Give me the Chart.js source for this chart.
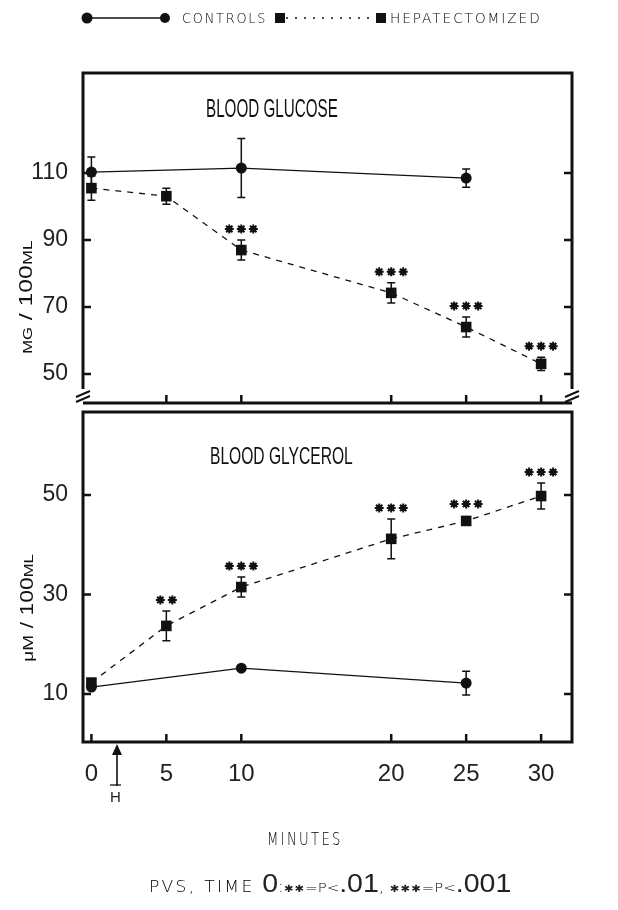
<!DOCTYPE html>
<html>
<head>
<meta charset="utf-8">
<script src="https://cdn.jsdelivr.net/npm/chart.js@4.4.0/dist/chart.umd.min.js"></script>
<style>
  html, body { margin: 0; padding: 0; background: #fff; }
  #page { position: relative; width: 618px; height: 910px; overflow: hidden; color: #111;
          font-family: 'Liberation Sans', sans-serif; }
  canvas { position: absolute; left: 0; top: 0; }
  svg { position: absolute; left: 0; top: 0; }
  .lbl { position: absolute; white-space: nowrap; line-height: 1; transform-origin: 0 0; }
  .rot { transform-origin: 50% 50%; }
  .thin { font-family: 'DejaVu Sans', sans-serif; font-weight: 200; color: #000; }
  .st { font-family: 'DejaVu Sans', sans-serif; font-size: 10px; letter-spacing: 1px; }
</style>
</head>
<body>
<div id="page">
  <canvas id="glucoseChart" width="618" height="910"></canvas>
  <canvas id="glycerolChart" width="618" height="910"></canvas>

  <svg width="618" height="910">
    <!-- legend symbols -->
    <line x1="87" y1="18" x2="165" y2="18" stroke="#111" stroke-width="1.5"/>
    <circle cx="87" cy="18" r="5.5" fill="#111"/>
    <circle cx="165" cy="18" r="5" fill="#111"/>
    <line x1="286" y1="18" x2="376" y2="18" stroke="#111" stroke-width="1.5" stroke-dasharray="2 7"/>
    <rect x="275" y="13" width="10" height="10" fill="#111"/>
    <rect x="376" y="13" width="10" height="10" fill="#111"/>
    <!-- hepatectomy arrow -->
    <line x1="117" y1="752" x2="117" y2="786" stroke="#111" stroke-width="1.6"/>
    <polygon points="117,744 112,755 122,755" fill="#111"/>
    <line x1="110" y1="785" x2="121" y2="785" stroke="#111" stroke-width="1.3"/>
    <text x="115.5" y="802" font-family="Liberation Sans, sans-serif" font-size="15" text-anchor="middle" fill="#222">H</text>
  </svg>

  <div class="lbl thin fit" data-w="85" style="left:182px; top:11px; font-size:14px; letter-spacing:2px;">CONTROLS</div>
  <div class="lbl thin fit" data-w="152" style="left:390px; top:11px; font-size:14px; letter-spacing:2px;">HEPATECTOMIZED</div>

  <div class="lbl fit" data-w="132" style="left:206px; top:96px; font-size:25px;">BLOOD GLUCOSE</div>
  <div class="lbl fit" data-w="143" style="left:210px; top:444px; font-size:24px;">BLOOD GLYCEROL</div>

  <div class="lbl rot fit" data-w="113" data-rot="1" style="left:26px; top:297px; font-size:18px;"><span style="font-size:12px">MG</span> / 100<span style="font-size:13px">ML</span></div>
  <div class="lbl rot fit" data-w="107" data-rot="1" style="left:27px; top:608px; font-size:18px;"><span style="font-size:15px">μM</span> / 100<span style="font-size:13px">ML</span></div>

  <div class="lbl thin fit" data-w="76" style="left:267px; top:831px; font-size:17px; letter-spacing:3px;">MINUTES</div>

  <div class="lbl fit" data-w="362" style="left:149px; top:871px; font-size:25px; color:#222;"><span class="thin" style="font-size:15px; letter-spacing:2px;">PVS, TIME </span>0<span class="thin" style="font-size:15px">:</span><span class="st">✱✱</span><span class="thin" style="font-size:13px">=P&lt;</span>.01<span class="thin" style="font-size:15px">, </span><span class="st">✱✱✱</span><span class="thin" style="font-size:13px">=P&lt;</span>.001</div>
</div>

<script>
// Data
const minuteTicks = [0, 5, 10, 20, 25, 30];
const hepMinutes = [0, 5, 10, 20, 25, 30];
const controlMinutes = [0, 10, 25];

const glucoseTicks = [50, 70, 90, 110];
const glucoseControls = [110.3, 111.5, 108.5];
const glucoseControlsSem = [4.5, 8.8, 2.7];
const glucoseHep = [105.5, 103.1, 87.0, 74.2, 64.0, 53.0];
const glucoseHepSem = [3.6, 2.4, 3.0, 3.0, 3.0, 2.0];
const glucoseStars = ['', '', '***', '***', '***', '***'];

const glycerolTicks = [10, 30, 50];
const glycerolControls = [11.4, 15.2, 12.2];
const glycerolControlsSem = [0, 0, 2.4];
const glycerolHep = [12.3, 23.7, 31.5, 41.2, 44.8, 49.8];
const glycerolHepSem = [0, 3.0, 2.0, 4.0, 0, 2.6];
const glycerolStars = ['', '**', '***', '***', '***', '***'];

const tickFamily = "'Liberation Sans', sans-serif";
const ink = '#111';

// Fit text widths to the reference
document.querySelectorAll('.fit').forEach(el => {
    const s = el.dataset.w / el.offsetWidth;
    el.style.transform = (el.dataset.rot ? 'translate(-50%,-50%) rotate(-90deg) ' : '') + 'scaleX(' + s + ')';
});

function toPoints(xs, ys) {
    return xs.map((x, i) => ({ x: x, y: ys[i] }));
}

// Box around each panel, with inward ticks
function makeFramePlugin(withBreak) {
    return {
        id: 'frame',
        afterDraw(chart) {
            const { ctx, chartArea: a, scales } = chart;
            ctx.save();
            ctx.strokeStyle = ink;
            ctx.lineWidth = 3;
            ctx.beginPath();
            if (withBreak) {
                const stop = a.bottom - 14;
                ctx.moveTo(a.left, stop);
                ctx.lineTo(a.left, a.top);
                ctx.lineTo(a.right, a.top);
                ctx.lineTo(a.right, stop);
                ctx.moveTo(a.left, a.bottom);
                ctx.lineTo(a.right, a.bottom);
                ctx.stroke();
                ctx.lineWidth = 2;
                ctx.beginPath();
                [a.left, a.right].forEach(x => {
                    [-9, -4].forEach(dy => {
                        ctx.moveTo(x - 7, a.bottom + dy + 3);
                        ctx.lineTo(x + 7, a.bottom + dy - 3);
                    });
                });
            } else {
                ctx.rect(a.left, a.top, a.right - a.left, a.bottom - a.top);
            }
            ctx.stroke();

            ctx.lineWidth = 2.5;
            ctx.beginPath();
            scales.y.ticks.forEach(t => {
                const y = scales.y.getPixelForValue(t.value);
                ctx.moveTo(a.left, y);
                ctx.lineTo(a.left + 8, y);
                ctx.moveTo(a.right, y);
                ctx.lineTo(a.right - 8, y);
            });
            scales.x.ticks.forEach(t => {
                if (withBreak && t.value === 0) return;
                const x = scales.x.getPixelForValue(t.value);
                ctx.moveTo(x, a.bottom);
                ctx.lineTo(x, a.bottom - 8);
            });
            ctx.stroke();
            ctx.restore();
        }
    };
}

// Error bars (SEM) and significance stars
const errorBarPlugin = {
    id: 'errorBars',
    afterDatasetsDraw(chart) {
        const { ctx } = chart;
        const yScale = chart.scales.y;
        ctx.save();
        ctx.strokeStyle = ink;
        ctx.fillStyle = ink;
        chart.data.datasets.forEach((ds, i) => {
            const meta = chart.getDatasetMeta(i);
            meta.data.forEach((pt, j) => {
                const v = ds.data[j].y;
                const sem = ds.sem[j];
                if (sem) {
                    const top = yScale.getPixelForValue(v + sem);
                    const bot = yScale.getPixelForValue(v - sem);
                    ctx.lineWidth = 1.5;
                    ctx.beginPath();
                    ctx.moveTo(pt.x, top);
                    ctx.lineTo(pt.x, bot);
                    ctx.moveTo(pt.x - 4, top);
                    ctx.lineTo(pt.x + 4, top);
                    ctx.moveTo(pt.x - 4, bot);
                    ctx.lineTo(pt.x + 4, bot);
                    ctx.stroke();
                }
                const stars = ds.stars ? ds.stars[j] : '';
                if (stars) {
                    const top = Math.min(yScale.getPixelForValue(v + sem), pt.y - 6) - 11;
                    const n = stars.length;
                    for (let k = 0; k < n; k++) {
                        const cx = pt.x + (k - (n - 1) / 2) * 12;
                        ctx.lineWidth = 2;
                        ctx.beginPath();
                        for (let s = 0; s < 4; s++) {
                            const ang = s * Math.PI / 4;
                            ctx.moveTo(cx + 4.5 * Math.cos(ang), top + 4.5 * Math.sin(ang));
                            ctx.lineTo(cx - 4.5 * Math.cos(ang), top - 4.5 * Math.sin(ang));
                        }
                        ctx.stroke();
                        ctx.beginPath();
                        ctx.arc(cx, top, 3, 0, Math.PI * 2);
                        ctx.fill();
                    }
                }
            });
        });
        ctx.restore();
    }
};

function makeChart(id, cfg) {
    const ctx = document.getElementById(id).getContext('2d');
    return new Chart(ctx, {
        type: 'line',
        data: {
            datasets: [
                {
                    label: 'CONTROLS',
                    data: toPoints(controlMinutes, cfg.controls),
                    sem: cfg.controlsSem,
                    borderColor: ink,
                    borderWidth: 1.3,
                    pointStyle: 'circle',
                    pointRadius: 5.5,
                    pointBackgroundColor: ink,
                    pointBorderWidth: 0
                },
                {
                    label: 'HEPATECTOMIZED',
                    data: toPoints(hepMinutes, cfg.hep),
                    sem: cfg.hepSem,
                    stars: cfg.stars,
                    borderColor: ink,
                    borderWidth: 1.3,
                    borderDash: [6, 6],
                    pointStyle: 'rect',
                    pointRadius: 7.5,
                    pointBackgroundColor: ink,
                    pointBorderWidth: 0
                }
            ]
        },
        options: {
            responsive: false,
            animation: false,
            layout: { padding: { top: cfg.top, right: 46, left: 0, bottom: 0 } },
            scales: {
                x: {
                    type: 'linear',
                    min: -0.56,
                    max: 32.06,
                    afterBuildTicks: s => { s.ticks = minuteTicks.map(v => ({ value: v })); },
                    afterFit: s => { s.height = 910 - cfg.bottom; },
                    grid: { display: false, drawTicks: false },
                    border: { display: false },
                    ticks: {
                        display: cfg.xLabels,
                        padding: 18,
                        font: { family: tickFamily, size: 24 },
                        color: '#222',
                        maxRotation: 0,
                        autoSkip: false
                    }
                },
                y: {
                    min: cfg.yMin,
                    max: cfg.yMax,
                    afterBuildTicks: s => { s.ticks = cfg.yTicks.map(v => ({ value: v })); },
                    afterFit: s => { s.width = 83; },
                    grid: { display: false, drawTicks: false },
                    border: { display: false },
                    ticks: { padding: 15, font: { family: tickFamily, size: 23 }, color: '#222' }
                }
            },
            plugins: {
                legend: { display: false },
                tooltip: { enabled: false }
            }
        },
        plugins: [makeFramePlugin(cfg.withBreak), errorBarPlugin]
    });
}

makeChart('glucoseChart', {
    top: 73, bottom: 403, yMin: 41.3, yMax: 139.9, yTicks: glucoseTicks,
    controls: glucoseControls, controlsSem: glucoseControlsSem,
    hep: glucoseHep, hepSem: glucoseHepSem, stars: glucoseStars,
    xLabels: false, withBreak: true
});

makeChart('glycerolChart', {
    top: 412, bottom: 742, yMin: 0.35, yMax: 66.7, yTicks: glycerolTicks,
    controls: glycerolControls, controlsSem: glycerolControlsSem,
    hep: glycerolHep, hepSem: glycerolHepSem, stars: glycerolStars,
    xLabels: true, withBreak: false
});
</script>
</body>
</html>
